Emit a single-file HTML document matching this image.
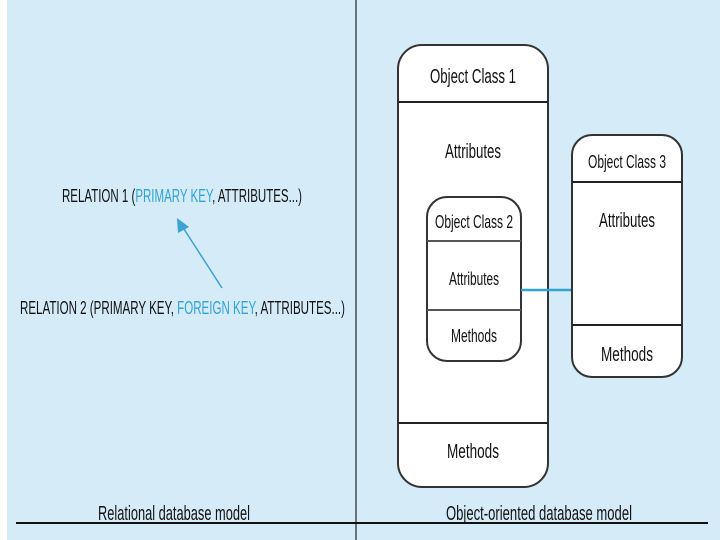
<!DOCTYPE html>
<html><head><meta charset="utf-8"><style>
html,body{margin:0;padding:0;background:#fff}
svg{display:block}
text{font-family:"Liberation Sans",sans-serif;fill:#111}
</style></head><body>
<svg width="720" height="540" viewBox="0 0 720 540" xmlns="http://www.w3.org/2000/svg">
<rect x="7" y="0" width="713" height="540" fill="#d5ebf8"/>
<line x1="356" y1="0" x2="356" y2="540" stroke="#222" stroke-width="1.2"/>
<line x1="16" y1="523" x2="708" y2="523" stroke="#111" stroke-width="2"/>

<text x="62" y="202" font-size="18" textLength="240" lengthAdjust="spacingAndGlyphs">RELATION 1 (<tspan fill="#2fa3d6">PRIMARY KEY</tspan>, ATTRIBUTES...)</text>
<text x="20" y="314" font-size="18" textLength="325" lengthAdjust="spacingAndGlyphs">RELATION 2 (PRIMARY KEY, <tspan fill="#2fa3d6">FOREIGN KEY</tspan>, ATTRIBUTES...)</text>
<line x1="222" y1="288" x2="182" y2="226" stroke="#3aa2d4" stroke-width="1.5"/>
<polygon points="177,218 178,233 189,227" fill="#3aa2d4"/>

<text x="98" y="520" font-size="20" textLength="152" lengthAdjust="spacingAndGlyphs">Relational database model</text>
<text x="446" y="520" font-size="20" textLength="186" lengthAdjust="spacingAndGlyphs">Object-oriented database model</text>

<!-- Box 1 -->
<rect x="398" y="45" width="150" height="442" rx="24" ry="24" fill="#fff" stroke="#333" stroke-width="2"/>
<line x1="398" y1="102" x2="548" y2="102" stroke="#222" stroke-width="2"/>
<line x1="398" y1="423" x2="548" y2="423" stroke="#222" stroke-width="2"/>
<text x="473" y="83" font-size="20" text-anchor="middle" textLength="86" lengthAdjust="spacingAndGlyphs">Object Class 1</text>
<text x="473" y="158" font-size="20" text-anchor="middle" textLength="56" lengthAdjust="spacingAndGlyphs">Attributes</text>
<text x="473" y="458" font-size="20" text-anchor="middle" textLength="52" lengthAdjust="spacingAndGlyphs">Methods</text>

<!-- Box 2 -->
<rect x="427" y="197" width="94" height="164" rx="20" ry="20" fill="#fff" stroke="#333" stroke-width="2"/>
<line x1="427" y1="241" x2="521" y2="241" stroke="#555" stroke-width="2"/>
<line x1="427" y1="310" x2="521" y2="310" stroke="#555" stroke-width="2"/>
<text x="474" y="228" font-size="18" text-anchor="middle" textLength="78" lengthAdjust="spacingAndGlyphs">Object Class 2</text>
<text x="474" y="285" font-size="18" text-anchor="middle" textLength="50" lengthAdjust="spacingAndGlyphs">Attributes</text>
<text x="474" y="342" font-size="18" text-anchor="middle" textLength="46" lengthAdjust="spacingAndGlyphs">Methods</text>

<line x1="521" y1="290" x2="572" y2="290" stroke="#2fa3d6" stroke-width="2.5"/>

<!-- Box 3 -->
<rect x="572" y="135" width="110" height="242" rx="20" ry="20" fill="#fff" stroke="#333" stroke-width="2"/>
<line x1="572" y1="182" x2="682" y2="182" stroke="#222" stroke-width="2"/>
<line x1="572" y1="325" x2="682" y2="325" stroke="#222" stroke-width="2"/>
<text x="627" y="168" font-size="18" text-anchor="middle" textLength="78" lengthAdjust="spacingAndGlyphs">Object Class 3</text>
<text x="627" y="227" font-size="20" text-anchor="middle" textLength="56" lengthAdjust="spacingAndGlyphs">Attributes</text>
<text x="627" y="361" font-size="20" text-anchor="middle" textLength="52" lengthAdjust="spacingAndGlyphs">Methods</text>
</svg>
</body></html>
